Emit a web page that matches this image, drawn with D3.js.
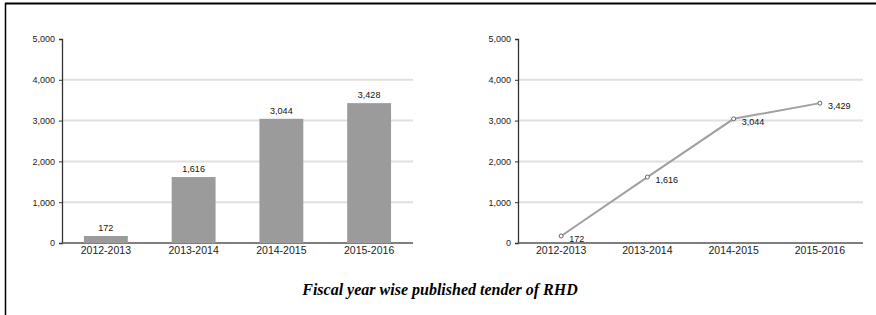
<!DOCTYPE html>
<html>
<head>
<meta charset="utf-8">
<script src="https://cdn.jsdelivr.net/npm/d3@7"></script>
<style>
  body { margin: 0; background: #fff; }
  svg { display: block; }
</style>
</head>
<body>
<div id="chart"></div>
<script>
// data
var years = ["2012-2013", "2013-2014", "2014-2015", "2015-2016"];
var tenders = [172, 1616, 3044, 3428];
var lineLabels = ["172", "1,616", "3,044", "3,429"];
var yTicks = [0, 1000, 2000, 3000, 4000, 5000];
var caption = "Fiscal year wise published tender of RHD";

var W = 876, H = 315;
var svg = d3.select("#chart").append("svg")
    .attr("width", W)
    .attr("height", H);

// outer frame (top and left edges only are visible)
svg.append("line").attr("x1", 5).attr("y1", 3.5).attr("x2", W).attr("y2", 3.5)
    .attr("stroke", "#000").attr("stroke-width", 2);
svg.append("line").attr("x1", 5.5).attr("y1", 3).attr("x2", 5.5).attr("y2", H)
    .attr("stroke", "#000").attr("stroke-width", 1.5);

var y = d3.scaleLinear().domain([0, 5000]).range([243, 39]);
var fmt = d3.format(",");
var sans = "'Liberation Sans', Arial, sans-serif";

function drawAxes(g, x0, x1) {
    // gridlines
    g.selectAll(".grid")
        .data(yTicks.filter(function (d) { return d > 0 && d < 5000; }))
        .enter().append("line")
        .attr("x1", x0).attr("x2", x1)
        .attr("y1", function (d) { return y(d); })
        .attr("y2", function (d) { return y(d); })
        .attr("stroke", "#e0e0e0")
        .attr("stroke-width", 2);

    var yg = g.append("g")
        .attr("transform", "translate(" + x0 + ",0)")
        .call(d3.axisLeft(y).tickValues(yTicks).tickFormat(fmt).tickSize(3).tickPadding(4));
    yg.select(".domain").attr("stroke", "#333").attr("stroke-width", 1.3);
    yg.selectAll("line").attr("stroke", "#333");
    yg.selectAll("text")
        .style("font-family", sans)
        .style("font-size", "9px")
        .attr("fill", "#222");

    g.append("line")
        .attr("x1", x0).attr("x2", x1)
        .attr("y1", y(0)).attr("y2", y(0))
        .attr("stroke", "#555").attr("stroke-width", 1.3);
}

function drawXLabels(g, x) {
    g.selectAll(".xl")
        .data(years)
        .enter().append("text")
        .attr("x", function (d) { return x(d) + x.bandwidth() / 2; })
        .attr("y", 254)
        .attr("text-anchor", "middle")
        .style("font-family", sans)
        .style("font-size", "10.5px")
        .attr("fill", "#222")
        .text(function (d) { return d; });
}

// left: bar chart
var left = svg.append("g");
var xb = d3.scaleBand().domain(years).range([62, 413]).paddingInner(0.5).paddingOuter(0.25);
drawAxes(left, 62, 413);

left.selectAll(".bar")
    .data(years)
    .enter().append("rect")
    .attr("x", function (d) { return xb(d); })
    .attr("width", xb.bandwidth())
    .attr("y", function (d, i) { return y(tenders[i]); })
    .attr("height", function (d, i) { return y(0) - y(tenders[i]); })
    .attr("fill", "#9b9b9b");

left.selectAll(".bl")
    .data(years)
    .enter().append("text")
    .attr("x", function (d) { return xb(d) + xb.bandwidth() / 2; })
    .attr("y", function (d, i) { return y(tenders[i]) - 5; })
    .attr("text-anchor", "middle")
    .style("font-family", sans)
    .style("font-size", "9px")
    .attr("fill", "#111")
    .text(function (d, i) { return fmt(tenders[i]); });

drawXLabels(left, xb);

// right: line chart
var right = svg.append("g");
var xl = d3.scaleBand().domain(years).range([518, 863]).padding(0);
drawAxes(right, 518, 863);

var line = d3.line()
    .x(function (d, i) { return xl(years[i]) + xl.bandwidth() / 2; })
    .y(function (d) { return y(d); });

right.append("path")
    .datum(tenders)
    .attr("d", line)
    .attr("fill", "none")
    .attr("stroke", "#a0a0a0")
    .attr("stroke-width", 2);

right.selectAll(".pt")
    .data(tenders)
    .enter().append("circle")
    .attr("cx", function (d, i) { return xl(years[i]) + xl.bandwidth() / 2; })
    .attr("cy", function (d) { return y(d); })
    .attr("r", 2)
    .attr("fill", "#fff")
    .attr("stroke", "#666")
    .attr("stroke-width", 1);

right.selectAll(".pl")
    .data(tenders)
    .enter().append("text")
    .attr("x", function (d, i) { return xl(years[i]) + xl.bandwidth() / 2 + 8; })
    .attr("y", function (d) { return y(d) + 6; })
    .style("font-family", sans)
    .style("font-size", "9px")
    .attr("fill", "#111")
    .text(function (d, i) { return lineLabels[i]; });

drawXLabels(right, xl);

// caption
svg.append("text")
    .attr("x", 440)
    .attr("y", 295)
    .attr("text-anchor", "middle")
    .style("font-family", "'Liberation Serif', 'Times New Roman', serif")
    .style("font-style", "italic")
    .style("font-weight", "bold")
    .style("font-size", "16px")
    .attr("fill", "#000")
    .text(caption);
</script>
</body>
</html>
